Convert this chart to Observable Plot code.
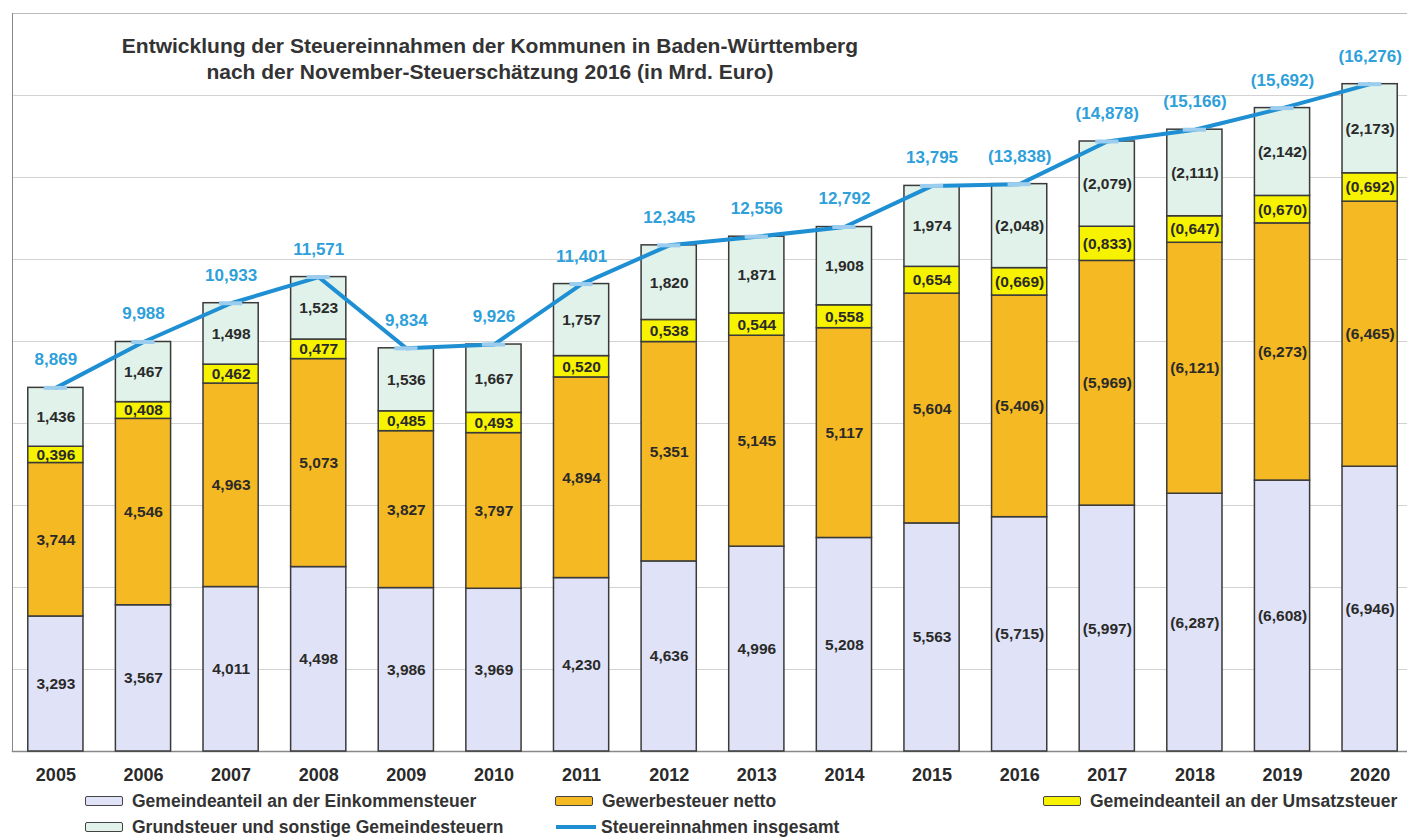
<!DOCTYPE html>
<html><head><meta charset="utf-8">
<script src="https://cdn.jsdelivr.net/npm/d3@7"></script>
<script src="https://cdn.jsdelivr.net/npm/@observablehq/plot@0.6"></script>
<style>
body{margin:0;background:#fff;overflow:hidden;font-family:"Liberation Sans",Arial,sans-serif;}
#wrap{position:relative;width:1407px;height:838px;overflow:hidden;}
#title{position:absolute;left:0;width:980px;top:33px;text-align:center;font-weight:bold;font-size:21px;line-height:26px;color:#333;}
.leg{position:absolute;font-weight:bold;font-size:17.5px;color:#333;display:flex;align-items:center;height:20px;white-space:nowrap;}
.sw{display:inline-block;width:36px;height:8px;border:1.5px solid #444;border-radius:2px;margin-right:9px;}
.ln{display:inline-block;width:40px;height:4px;background:#1e8fd2;margin-right:5px;}
</style></head>
<body><div id="wrap"><div id="chart"></div>
<div id="title">Entwicklung der Steuereinnahmen der Kommunen in Baden-Württemberg<br>nach der November-Steuerschätzung 2016 (in Mrd. Euro)</div>
<div id="legend"></div></div>
<script>
const years = [2005,2006,2007,2008,2009,2010,2011,2012,2013,2014,2015,2016,2017,2018,2019,2020];
const einkommensteuer = [3.293,3.567,4.011,4.498,3.986,3.969,4.230,4.636,4.996,5.208,5.563,5.715,5.997,6.287,6.608,6.946];
const gewerbesteuer = [3.744,4.546,4.963,5.073,3.827,3.797,4.894,5.351,5.145,5.117,5.604,5.406,5.969,6.121,6.273,6.465];
const umsatzsteuer = [0.396,0.408,0.462,0.477,0.485,0.493,0.520,0.538,0.544,0.558,0.654,0.669,0.833,0.647,0.670,0.692];
const grundsteuer = [1.436,1.467,1.498,1.523,1.536,1.667,1.757,1.820,1.871,1.908,1.974,2.048,2.079,2.111,2.142,2.173];
const insgesamt = [8.869,9.988,10.933,11.571,9.834,9.926,11.401,12.345,12.556,12.792,13.795,13.838,14.878,15.166,15.692,16.276];
const estimateFrom = 2016;
const seriesNames = ["Gemeindeanteil an der Einkommensteuer","Gewerbesteuer netto","Gemeindeanteil an der Umsatzsteuer","Grundsteuer und sonstige Gemeindesteuern"];
const seriesValues = [einkommensteuer, gewerbesteuer, umsatzsteuer, grundsteuer];
const seriesColors = ["#e0e3f7","#f5b923","#f7f200","#e0f2e9"];
const lineName = "Steuereinnahmen insgesamt";
const gridValues = [2,4,6,8,10,12,14,16];

const fmt = (v, yr) => { const s = d3.format(".3f")(v).replace(".", ","); return yr >= estimateFrom ? "(" + s + ")" : s; };

const rows = [];
years.forEach((yr, i) => {
  let base = 0;
  seriesNames.forEach((s, k) => {
    const v = seriesValues[k][i];
    rows.push({year: yr, series: s, value: v, y1: base, y2: base + v});
    base += v;
  });
});
const totals = years.map((yr, i) => ({year: yr, total: insgesamt[i]}));

const font = "'Liberation Sans', Arial, sans-serif";
const chart = Plot.plot({
  width: 1407, height: 790,
  marginTop: 13, marginBottom: 39, marginLeft: 12, marginRight: 0,
  style: {fontFamily: font, background: "transparent"},
  x: {type: "band", domain: years, range: [12, 1413], round: false, paddingInner: 0.37, paddingOuter: 0.18, label: null},
  y: {domain: [0, 18], axis: null},
  color: {domain: seriesNames, range: seriesColors},
  marks: [
    Plot.ruleY(gridValues, {stroke: "#d2d2d2", strokeWidth: 1}),
    Plot.frame({anchor: "top", stroke: "#bbb"}),
    Plot.frame({anchor: "left", stroke: "#888"}),
    Plot.frame({anchor: "bottom", stroke: "#888", strokeWidth: 1.5}),
    Plot.barY(rows, {x: "year", y1: "y1", y2: "y2", fill: "series", stroke: "#3a3a3a", strokeWidth: 1.5}),
    Plot.text(rows, {x: "year", y: d => (d.y1 + d.y2) / 2, text: d => fmt(d.value, d.year), fontSize: 15.5, fontWeight: "bold", fill: "#2a2a2a"}),
    Plot.line(totals, {x: "year", y: "total", stroke: "#1e8fd2", strokeWidth: 4}),
    Plot.tickY(totals, {x: "year", y: "total", stroke: "#9ccdee", strokeWidth: 4, insetLeft: 16, insetRight: 16}),
    Plot.text(totals, {x: "year", y: "total", dy: -28, text: d => fmt(d.total, d.year), fontSize: 17, fontWeight: "bold", fill: "#2ea0da"}),
    Plot.axisX({tickSize: 0, tickPadding: 17, fontSize: 18, fontWeight: "bold", fill: "#2a2a2a", tickFormat: d => String(d), label: null})
  ]
});
document.getElementById("chart").appendChild(chart);

const legendItems = [
  {name: seriesNames[0], color: seriesColors[0], left: 85, top: 791},
  {name: seriesNames[1], color: seriesColors[1], left: 555, top: 791},
  {name: seriesNames[2], color: seriesColors[2], left: 1043, top: 791},
  {name: seriesNames[3], color: seriesColors[3], left: 85, top: 817},
  {name: lineName, line: true, left: 556, top: 817}
];
const leg = document.getElementById("legend");
legendItems.forEach(it => {
  const d = document.createElement("div");
  d.className = "leg";
  d.style.left = it.left + "px";
  d.style.top = it.top + "px";
  const sw = document.createElement("span");
  if (it.line) sw.className = "ln"; else { sw.className = "sw"; sw.style.background = it.color; }
  d.appendChild(sw);
  d.appendChild(document.createTextNode(it.name));
  leg.appendChild(d);
});
</script>
</body></html>
